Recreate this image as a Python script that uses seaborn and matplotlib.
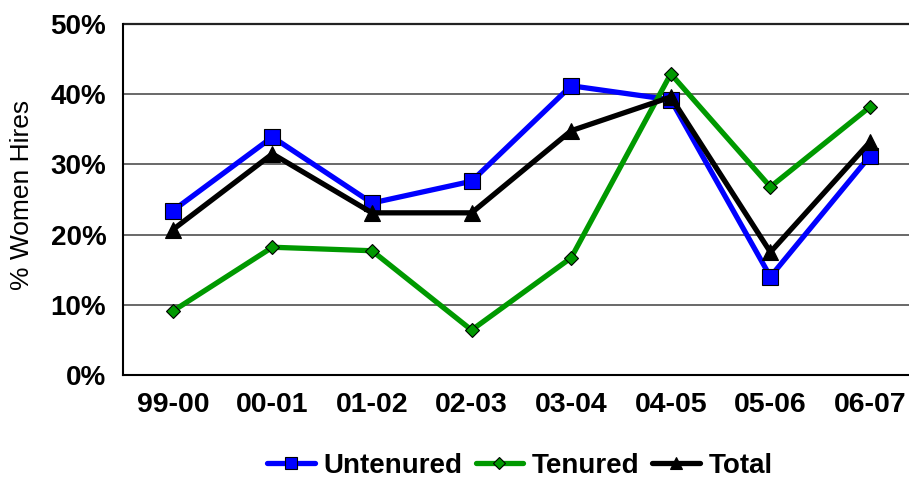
import matplotlib
matplotlib.use("Agg")
import matplotlib.pyplot as plt
import seaborn as sns
import pandas as pd
import numpy as np

years = ["99-00", "00-01", "01-02", "02-03", "03-04", "04-05", "05-06", "06-07"]
untenured = [23.4, 33.9, 24.5, 27.6, 41.2, 39.2, 14.0, 31.2]
tenured = [9.1, 18.2, 17.7, 6.4, 16.7, 42.9, 26.8, 38.2]
total = [20.7, 31.5, 23.1, 23.1, 34.8, 39.6, 17.5, 33.2]
yticks = [0, 10, 20, 30, 40, 50]

sns.set_theme(style="white")
plt.rcParams['font.family'] = ['Liberation Sans', 'DejaVu Sans']
plt.rcParams['text.color'] = 'black'
plt.rcParams['xtick.color'] = 'black'
plt.rcParams['ytick.color'] = 'black'
plt.rcParams['axes.labelcolor'] = 'black'

W, H = 909, 478
fig = plt.figure(figsize=(W / 100, H / 100), dpi=100)
left, right, top, bottom = 123, 909, 24, 375
ax = fig.add_axes([left / W, 1 - bottom / H, (right - left) / W, (bottom - top) / H])

idx = np.arange(len(years))
series = [
    ("Untenured", untenured, "#0000FF", "s", 11, "#0000FF"),
    ("Tenured", tenured, "#009900", "D", 7.5, "#009900"),
    ("Total", total, "#000000", "^", 11, "#000000"),
]
for name, vals, col, mk, ms, fc in series:
    df = pd.DataFrame({"x": idx, "y": vals})
    sns.lineplot(data=df, x="x", y="y", ax=ax, color=col, lw=3.8,
                 marker=mk, markersize=ms, markerfacecolor=fc,
                 markeredgecolor="black", markeredgewidth=0.8, label=name)

ax.set_ylim(0, 50)
ax.set_xlim(-0.5, -0.5 + (right - left) / 99.6)
ax.set_yticks(yticks)
ax.set_yticklabels([f"{t}%" for t in yticks], fontsize=20, fontweight="bold")
ax.set_xticks(idx)
ax.set_xticklabels(years, fontsize=20.5, fontweight="bold")
ax.tick_params(axis="x", pad=12, length=0)
ax.tick_params(axis="y", pad=12, length=0)
for t in yticks[1:-1]:
    ax.axhline(t, color="#404040", lw=1.1, zorder=0)
ax.axhline(50, color="#222222", lw=1.6, zorder=0, clip_on=False)
ax.set_xlabel("")
ax.set_ylabel("% Women Hires", fontsize=19)
ax.yaxis.set_label_coords((34 - left) / (right - left), (bottom - 195) / (bottom - top))
for s in ["left", "bottom"]:
    ax.spines[s].set_color("black")
    ax.spines[s].set_linewidth(1.5)
ax.spines["right"].set_visible(False)
ax.spines["top"].set_visible(False)
ax.grid(False)

leg = ax.legend(loc="center", bbox_to_anchor=(520 / W, 1 - 466 / H),
                bbox_transform=fig.transFigure, ncol=3, frameon=False,
                prop={"size": 20, "weight": "bold"}, handlelength=1.7,
                handletextpad=0.32, columnspacing=0.47, markerscale=0.85)

fig.savefig("out.png", dpi=100)
